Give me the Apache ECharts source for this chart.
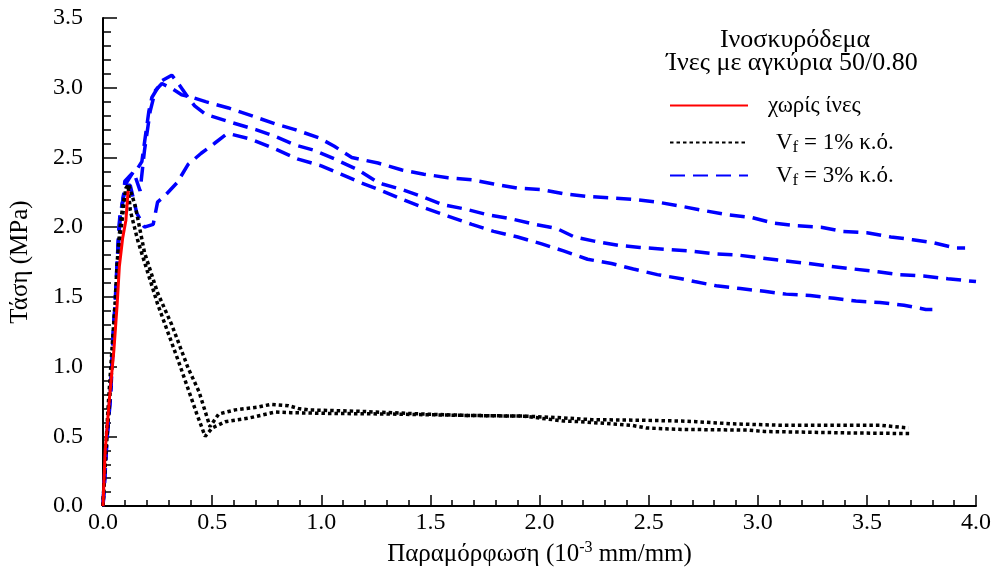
<!DOCTYPE html>
<html>
<head>
<meta charset="utf-8">
<script src="https://cdn.jsdelivr.net/npm/echarts@6/dist/echarts.min.js"></script>
<style>
  html, body { margin: 0; padding: 0; background: #fff; }
  #chart { width: 997px; height: 572px; }
</style>
</head>
<body>
<div id="chart"></div>
<script>
// Strain (10^-3 mm/mm) vs stress (MPa) pairs for each specimen
const plainConcrete = [
  [0, 0], [0.01, 0.40], [0.03, 0.78], [0.05, 1.12], [0.065, 1.45], [0.075, 1.72],
  [0.09, 1.92], [0.105, 2.05], [0.115, 2.26]
];

const fiber1a = [
  [0, 0], [0.01, 0.35], [0.025, 0.75], [0.04, 1.10], [0.055, 1.45], [0.065, 1.75],
  [0.075, 1.95], [0.09, 2.15], [0.105, 2.28], [0.115, 2.30], [0.125, 2.12], [0.16, 1.90],
  [0.25, 1.45], [0.35, 1.02], [0.43, 0.66], [0.468, 0.50], [0.50, 0.56], [0.56, 0.605],
  [0.665, 0.63], [0.79, 0.675], [0.86, 0.67], [1.02, 0.665], [1.32, 0.66], [1.67, 0.65],
  [1.93, 0.645], [2.11, 0.61], [2.19, 0.605], [2.42, 0.58], [2.49, 0.56], [2.65, 0.55],
  [2.95, 0.545], [3.03, 0.535], [3.41, 0.525], [3.70, 0.52]
];

const fiber1b = [
  [0, 0], [0.012, 0.35], [0.03, 0.75], [0.045, 1.10], [0.06, 1.45], [0.07, 1.75],
  [0.08, 1.95], [0.095, 2.15], [0.11, 2.28], [0.117, 2.31], [0.148, 2.15], [0.19, 1.82],
  [0.25, 1.53], [0.315, 1.30], [0.39, 0.99], [0.44, 0.82], [0.49, 0.57], [0.53, 0.66],
  [0.605, 0.69], [0.71, 0.71], [0.77, 0.73], [0.85, 0.72], [0.895, 0.70], [0.94, 0.69],
  [1.17, 0.68], [1.47, 0.66], [1.67, 0.65], [1.93, 0.645], [2.08, 0.635], [2.24, 0.62],
  [2.49, 0.615], [2.65, 0.61], [2.72, 0.605], [2.88, 0.59], [3.10, 0.58], [3.41, 0.58],
  [3.56, 0.58], [3.69, 0.56]
];

const fiber3a = [
  [0, 0], [0.003, 0.08], [0.018, 0.49], [0.033, 0.77], [0.041, 1.01], [0.049, 1.29],
  [0.056, 1.44], [0.064, 1.70], [0.072, 1.94], [0.079, 2.10], [0.087, 2.15], [0.094, 2.22],
  [0.10, 2.33], [0.13, 2.38], [0.15, 2.40], [0.178, 2.47], [0.21, 2.83], [0.224, 2.93],
  [0.27, 3.05], [0.315, 3.09], [0.35, 3.02], [0.39, 2.93], [0.42, 2.87], [0.47, 2.81],
  [0.59, 2.75], [0.70, 2.70], [0.79, 2.65], [0.88, 2.59], [0.97, 2.55], [1.06, 2.49],
  [1.17, 2.41], [1.25, 2.33], [1.28, 2.31], [1.37, 2.27], [1.46, 2.22], [1.56, 2.16],
  [1.66, 2.13], [1.76, 2.09], [1.87, 2.06], [1.98, 2.02], [2.08, 1.99], [2.16, 1.93],
  [2.25, 1.90], [2.36, 1.87], [2.46, 1.855], [2.59, 1.84], [2.69, 1.83], [2.80, 1.81],
  [2.91, 1.80], [3.01, 1.78], [3.12, 1.76], [3.23, 1.74], [3.33, 1.72], [3.44, 1.70],
  [3.55, 1.68], [3.65, 1.66], [3.76, 1.65], [3.87, 1.63], [4.0, 1.61]
];

const fiber3b = [
  [0, 0], [0.004, 0.08], [0.019, 0.49], [0.034, 0.77], [0.042, 1.01], [0.05, 1.29],
  [0.057, 1.44], [0.065, 1.70], [0.073, 1.94], [0.08, 2.10], [0.09, 2.18], [0.10, 2.30],
  [0.14, 2.40], [0.17, 2.26], [0.19, 2.55], [0.216, 2.83], [0.24, 2.98], [0.27, 3.03],
  [0.32, 2.99], [0.36, 2.95], [0.41, 2.93], [0.47, 2.90], [0.575, 2.855], [0.68, 2.80],
  [0.79, 2.74], [0.88, 2.70], [0.99, 2.64], [1.06, 2.58], [1.14, 2.50], [1.26, 2.46],
  [1.37, 2.41], [1.47, 2.38], [1.58, 2.355], [1.69, 2.34], [1.79, 2.31], [1.90, 2.28],
  [2.01, 2.27], [2.11, 2.24], [2.22, 2.22], [2.33, 2.21], [2.43, 2.20], [2.54, 2.18],
  [2.65, 2.15], [2.75, 2.12], [2.86, 2.09], [2.97, 2.07], [3.07, 2.03], [3.18, 2.01],
  [3.29, 2.00], [3.39, 1.97], [3.50, 1.96], [3.61, 1.93], [3.71, 1.91], [3.80, 1.89],
  [3.91, 1.85], [3.95, 1.85]
];

const fiber3c = [
  [0, 0], [0.002, 0.08], [0.017, 0.49], [0.032, 0.77], [0.04, 1.01], [0.048, 1.29],
  [0.055, 1.44], [0.063, 1.70], [0.071, 1.94], [0.078, 2.10], [0.086, 2.15], [0.094, 2.22],
  [0.11, 2.30], [0.125, 2.30], [0.155, 2.10], [0.19, 2.00], [0.23, 2.02], [0.25, 2.18],
  [0.28, 2.22], [0.34, 2.32], [0.39, 2.45], [0.45, 2.53], [0.51, 2.60], [0.56, 2.66],
  [0.58, 2.67], [0.68, 2.63], [0.79, 2.56], [0.89, 2.49], [1.0, 2.44], [1.09, 2.38],
  [1.18, 2.32], [1.28, 2.26], [1.37, 2.20], [1.47, 2.14], [1.58, 2.08], [1.69, 2.02],
  [1.79, 1.97], [1.90, 1.93], [2.01, 1.88], [2.11, 1.83], [2.22, 1.77], [2.33, 1.74],
  [2.43, 1.70], [2.54, 1.66], [2.65, 1.63], [2.71, 1.61], [2.81, 1.58], [2.92, 1.56],
  [3.03, 1.54], [3.13, 1.52], [3.24, 1.51], [3.35, 1.49], [3.45, 1.47], [3.56, 1.46],
  [3.67, 1.44], [3.77, 1.41], [3.80, 1.41]
];

const seriesNames = ['χωρίς ίνες', 'Vf = 1% κ.ό.', 'Vf = 3% κ.ό.'];
const titleLines = ['Ινοσκυρόδεμα', 'Ίνες με αγκύρια 50/0.80'];

const FONT = '"Liberation Serif", "DejaVu Serif", serif';

const chart = echarts.init(document.getElementById('chart'), null, { renderer: 'canvas' });

function lineSeries(name, data, color, type, width) {
  return {
    name: name,
    type: 'line',
    data: data,
    symbol: 'none',
    silent: true,
    animation: false,
    lineStyle: { color: color, width: width, type: type, cap: 'butt' },
    itemStyle: { color: color }
  };
}

const dotted = [3.5, 3];
const dashed = [15, 8];

function legendLabel(name) {
  if (name.indexOf('Vf') === 0) {
    return 'V{sub|f}' + name.slice(2);
  }
  return name;
}

function legendBlock(name, top, textPad) {
  return {
    data: [name],
    left: 669,
    top: top,
    orient: 'vertical',
    padding: 0,
    itemWidth: 78,
    itemHeight: 14,
    selectedMode: false,
    itemStyle: { opacity: 0 },
    formatter: legendLabel,
    textStyle: {
      fontFamily: FONT,
      fontSize: 23,
      color: '#000',
      padding: [0, 0, 0, textPad],
      rich: {
        sub: { fontFamily: FONT, fontSize: 17, color: '#000', padding: [11, 0, 0, 0] }
      }
    }
  };
}

const option = {
  backgroundColor: '#fff',
  animation: false,
  grid: { left: 101, right: 21, top: 18, bottom: 64, containLabel: false },
  legend: [
    legendBlock(seriesNames[0], 94, 15),
    legendBlock(seriesNames[1], 131, 23),
    legendBlock(seriesNames[2], 164, 23)
  ],
  graphic: [
    {
      type: 'text', x: 795, y: 40,
      style: {
        text: titleLines[0], font: '26px ' + FONT, fill: '#000',
        align: 'center', verticalAlign: 'middle'
      }
    },
    {
      type: 'text', x: 792, y: 63,
      style: {
        text: titleLines[1], font: '26px ' + FONT, fill: '#000',
        align: 'center', verticalAlign: 'middle'
      }
    }
  ],
  xAxis: {
    type: 'value',
    min: 0,
    max: 4,
    interval: 0.5,
    name: 'Παραμόρφωση (10{sup|-3} mm/mm)',
    nameLocation: 'middle',
    nameGap: 33,
    nameTextStyle: {
      fontFamily: FONT, fontSize: 25, color: '#000',
      rich: { sup: { fontFamily: FONT, fontSize: 16, color: '#000', padding: [0, 0, 13, 0] } }
    },
    axisLine: { onZero: false, lineStyle: { color: '#000', width: 2 } },
    axisTick: { inside: true, length: 11, lineStyle: { color: '#000', width: 1.5 } },
    minorTick: { show: true, splitNumber: 5, length: 6, lineStyle: { color: '#000', width: 1.5 } },
    splitLine: { show: false },
    axisLabel: {
      fontFamily: FONT, fontSize: 24, color: '#000', margin: 5,
      formatter: v => v.toFixed(1)
    }
  },
  yAxis: {
    type: 'value',
    min: 0,
    max: 3.5,
    interval: 0.5,
    name: 'Τάση (MPa)',
    nameLocation: 'middle',
    nameGap: 70,
    nameRotate: 90,
    nameTextStyle: { fontFamily: FONT, fontSize: 25, color: '#000' },
    axisLine: { onZero: false, lineStyle: { color: '#000', width: 2 } },
    axisTick: { inside: true, length: 14, lineStyle: { color: '#000', width: 1.5 } },
    minorTick: { show: true, splitNumber: 5, length: 8, lineStyle: { color: '#000', width: 1.5 } },
    splitLine: { show: false },
    axisLabel: {
      fontFamily: FONT, fontSize: 24, color: '#000', margin: 20,
      formatter: v => v.toFixed(1)
    }
  },
  series: [
    lineSeries(seriesNames[2], fiber3a, '#0000ff', dashed, 3.5),
    lineSeries(seriesNames[2], fiber3b, '#0000ff', dashed, 3.5),
    lineSeries(seriesNames[2], fiber3c, '#0000ff', dashed, 3.5),
    lineSeries(seriesNames[1], fiber1a, '#000000', dotted, 3.5),
    lineSeries(seriesNames[1], fiber1b, '#000000', dotted, 3.5),
    lineSeries(seriesNames[0], plainConcrete, '#ff0000', 'solid', 3)
  ]
};

chart.setOption(option);
</script>
</body>
</html>
